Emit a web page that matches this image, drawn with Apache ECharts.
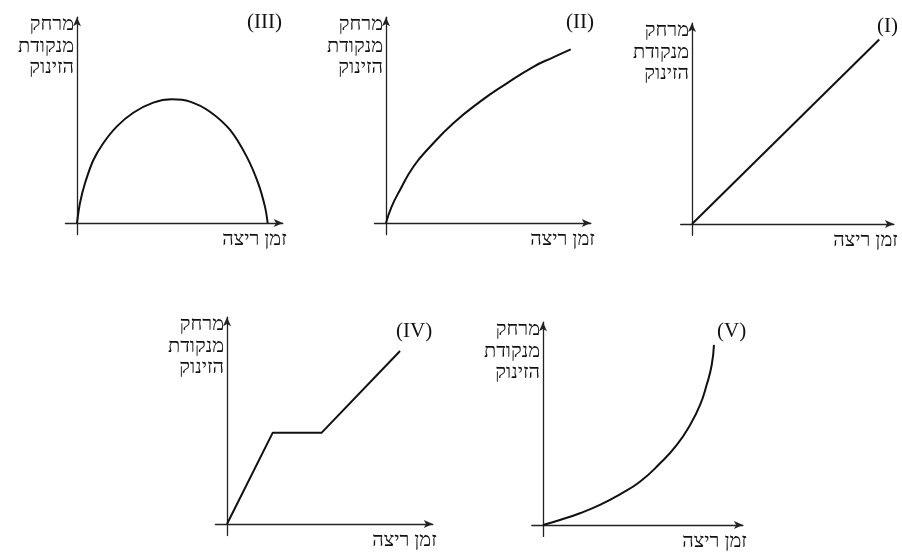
<!DOCTYPE html>
<html>
<head>
<meta charset="utf-8">
<script src="https://cdn.jsdelivr.net/npm/echarts@6/dist/echarts.min.js"></script>
<style>
html,body{margin:0;padding:0;background:#fff;}
#chart{width:902px;height:552px;}
</style>
</head>
<body>
<div id="chart"></div>
<script>
// ---- DATA ----
const yAxisName = 'מרחק\nמנקודת\nהזינוק';
const xAxisName = 'זמן ריצה';
const panelLabels = ['(III)', '(II)', '(I)', '(IV)', '(V)'];

const xIII = [0, 0.14, 0.38, 0.78, 1.25, 1.89, 2.68, 3.63, 4.51, 5.38, 6.33, 7.29, 8.08, 8.63, 8.95, 9.08];
const yIII = [0, 0.94, 1.89, 3.0, 3.8, 4.59, 5.25, 5.73, 5.89, 5.78, 5.3, 4.43, 3.16, 1.89, 0.78, 0];

const xII = [0, 0.27, 0.67, 1.31, 2.11, 3.22, 4.5, 5.78, 7.05, 8.0, 8.84];
const yII = [0, 0.78, 1.57, 2.68, 3.63, 4.75, 5.78, 6.65, 7.44, 7.89, 8.27];

const xI = [0, 9.09];
const yI = [0, 9.0];

const xIV = [0, 2.18, 4.51, 8.24];
const yIV = [0, 4.33, 4.33, 8.2];

const xV = [0, 0.83, 1.81, 2.79, 3.77, 4.75, 5.74, 6.55, 7.21, 7.70, 8.02, 8.27, 8.38];
const yV = [0, 0.24, 0.57, 0.97, 1.48, 2.09, 2.98, 3.86, 4.83, 5.80, 6.76, 7.73, 8.70];

// ---- LAYOUT ----
const AX_MIN = -0.55, AX_MAX = 9.8;
const panels = [
  {xs: xIII, ys: yIII, smooth: 0.35, ox: 77,  oy: 223, sx: 21,   sy: 21,   tl: 247, tt: 12},
  {xs: xII,  ys: yII,  smooth: 0.5,  ox: 386, oy: 223, sx: 20.9, sy: 21,   tl: 566, tt: 12},
  {xs: xI,   ys: yI,   smooth: false, ox: 692, oy: 224, sx: 20.6, sy: 20.5, tl: 877, tt: 16},
  {xs: xIV,  ys: yIV,  smooth: false, ox: 227, oy: 524, sx: 21,   sy: 21.1, tl: 396, tt: 321},
  {xs: xV,   ys: yV,   smooth: 0.5,  ox: 543, oy: 525, sx: 20.4, sy: 20.7, tl: 717, tt: 321}
];

const FONT = 'Liberation Serif';
const grid = [], xAxis = [], yAxis = [], series = [], title = [];
panels.forEach((p, i) => {
  grid.push({
    left: p.ox + AX_MIN * p.sx,
    top: p.oy - AX_MAX * p.sy,
    width: (AX_MAX - AX_MIN) * p.sx,
    height: (AX_MAX - AX_MIN) * p.sy,
    containLabel: false,
    outerBoundsMode: 'none'
  });
  const axisLine = {
    show: true, onZero: true,
    symbol: ['none', 'arrow'], symbolSize: [6, 9],
    lineStyle: {color: '#222', width: 1.3}
  };
  xAxis.push({
    type: 'value', gridIndex: i, min: AX_MIN, max: AX_MAX,
    axisLine: axisLine, axisTick: {show: false}, axisLabel: {show: false}, splitLine: {show: false},
    name: xAxisName, nameLocation: 'end', nameGap: 4,
    nameTextStyle: {fontFamily: FONT, fontSize: 20, color: '#111', align: 'right', verticalAlign: 'top', padding: [7, 0, 0, 0]}
  });
  yAxis.push({
    type: 'value', gridIndex: i, min: AX_MIN, max: AX_MAX,
    axisLine: axisLine, axisTick: {show: false}, axisLabel: {show: false}, splitLine: {show: false},
    name: yAxisName, nameLocation: 'end', nameGap: 3,
    nameTextStyle: {fontFamily: FONT, fontSize: 20, lineHeight: 21.5, color: '#111', align: 'right', verticalAlign: 'top', padding: [0, 3, 0, 0]}
  });
  series.push({
    type: 'line', xAxisIndex: i, yAxisIndex: i,
    data: p.xs.map((x, k) => [x, p.ys[k]]),
    showSymbol: false, symbol: 'none', smooth: p.smooth,
    lineStyle: {color: '#111', width: 2},
    animation: false, silent: true
  });
  title.push({
    text: panelLabels[i], left: p.tl, top: p.tt, padding: 0,
    textStyle: {fontFamily: FONT, fontSize: 21, fontWeight: 'normal', color: '#111'}
  });
});

const chart = echarts.init(document.getElementById('chart'), null, {renderer: 'canvas'});
chart.setOption({
  backgroundColor: '#fff',
  animation: false,
  title: title,
  grid: grid,
  xAxis: xAxis,
  yAxis: yAxis,
  series: series
});
</script>
</body>
</html>
